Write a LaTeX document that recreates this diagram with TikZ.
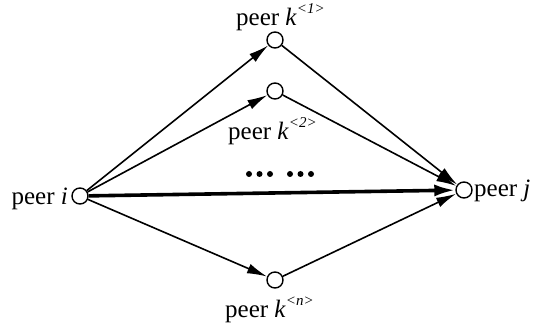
\documentclass[tikz,border=0pt]{standalone}
\usepackage{fontspec}
\setmainfont{Liberation Serif}
\usetikzlibrary{arrows.meta}
\newcommand{\peerk}[1]{peer \textit{k}\raisebox{12pt}{\fontsize{15}{15}\selectfont\textit{<#1>}}}
\begin{document}
\begin{tikzpicture}[x=1pt,y=-1pt,
 peer/.style={circle,draw,line width=1.4pt,minimum size=16pt,inner sep=0pt,fill=white},
 lbl/.style={font=\fontsize{25}{28}\selectfont,inner sep=0pt},
 edge/.style={line width=1.6pt,-{Latex[length=20pt,width=10pt]}},
 thickedge/.style={line width=3.6pt,-{Latex[length=21pt,width=12pt]}},
 dot/.style={circle,fill=black,inner sep=0pt,minimum size=6pt}]
\useasboundingbox (0,0) rectangle (538,328);
\node[peer] (i) at (80,196) {};
\node[peer] (j) at (464,190) {};
\node[peer] (k1) at (275,40) {};
\node[peer] (k2) at (275,91) {};
\node[peer] (kn) at (275,280) {};
\node[lbl,anchor=base east] (li) at (68,205) {peer \textit{i}};
\node[lbl,anchor=base west] (lj) at (474,197) {peer \textit{j}};
\node[lbl,anchor=base west] (l1) at (236,26) {\peerk{1}};
\node[lbl,anchor=base west] (l2) at (228,140) {\peerk{2}};
\node[lbl,anchor=base west] (ln) at (225,318) {\peerk{n}};
\foreach \x [count=\n] in {249,259.5,270,290,300.5,311} \node[dot] (d\n) at (\x,174) {};
\draw[edge] (i) -- (k1);
\draw[edge] (i) -- (k2);
\draw[edge] (i) -- (kn);
\draw[thickedge] (i) -- (j);
\draw[edge] (k1) -- (j);
\draw[edge] (k2) -- (j);
\draw[edge] (kn) -- (j);
\end{tikzpicture}
\end{document}
